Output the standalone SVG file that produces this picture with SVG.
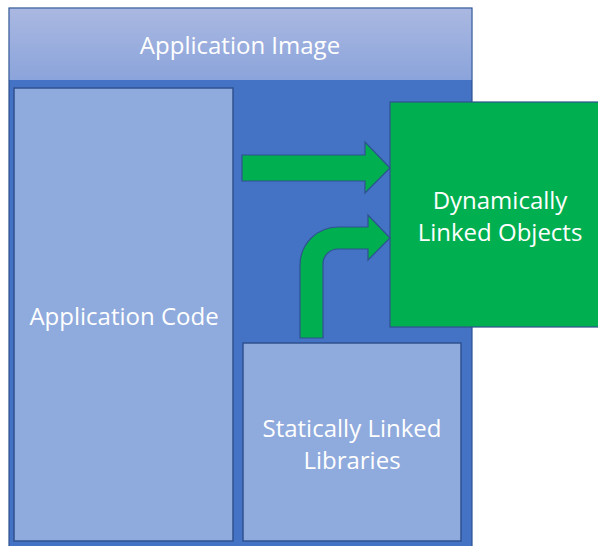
<svg xmlns="http://www.w3.org/2000/svg" width="598" height="546" viewBox="0 0 598 546">
<defs>
<linearGradient id="hdr" x1="0" y1="0" x2="0" y2="1">
<stop offset="0" stop-color="#aab8e1"/>
<stop offset="1" stop-color="#8ba4db"/>
</linearGradient>
</defs>
<style>
.box{stroke:#2f528f;stroke-width:1.2}
.inner{fill:#8faadc;stroke:#2f528f;stroke-width:1.5}
.arrow{fill:#00b050;stroke:#2f528f;stroke-width:1.2;stroke-linejoin:miter}
text{font-family:"Open Sans","Liberation Sans",sans-serif;fill:#ffffff;font-size:24px;text-anchor:middle}
</style>
<rect width="598" height="546" fill="#ffffff"/>
<g id="application-image">
<rect class="box" x="9" y="8" width="463" height="545" fill="#4472c4"/>
<rect x="9.6" y="8.6" width="461.8" height="71.4" fill="url(#hdr)"/>
<text x="240" y="54">Application Image</text>
</g>
<g id="application-code">
<rect class="inner" x="14" y="88" width="219" height="453"/>
<text x="124" y="325">Application Code</text>
</g>
<g id="static-libs">
<rect class="inner" x="243" y="343" width="218" height="198"/>
<text x="352" y="437">Statically Linked</text>
<text x="352" y="469">Libraries</text>
</g>
<g id="dynamic-objects">
<rect class="box" x="390" y="102" width="212" height="225" fill="#00b050"/>
<text x="500" y="209">Dynamically</text>
<text x="500" y="241">Linked Objects</text>
</g>
<g id="connectors">
<path class="arrow" d="M242,155 L365,155 L365,142 L390,168 L365,193 L365,181 L242,181 Z"/>
<path class="arrow" d="M300,338 L300,265 A38,38 0 0 1 338,227 L368,227 L368,215 L390,238 L368,260 L368,249 L338,249 A15,15 0 0 0 323,264 L323,338 Z"/>
</g>
</svg>
